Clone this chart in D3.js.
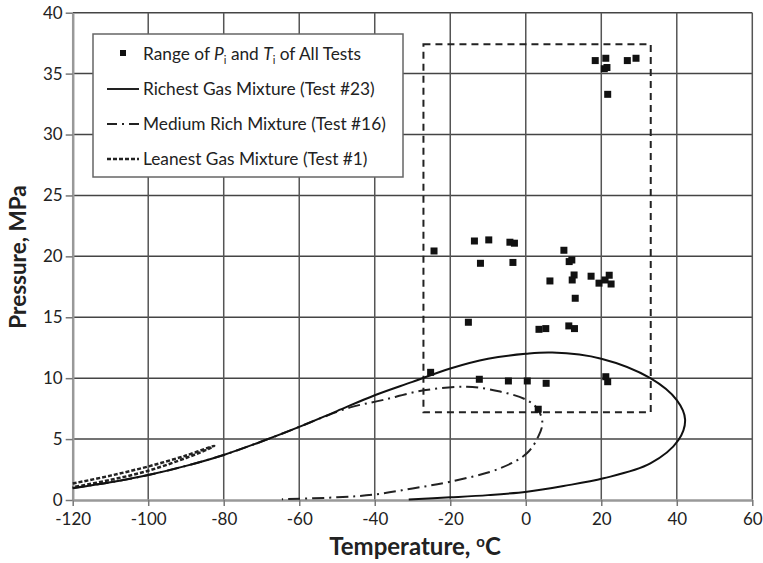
<!DOCTYPE html>
<html>
<head>
<meta charset="utf-8">
<script src="https://cdn.jsdelivr.net/npm/d3@7"></script>
<style>
    body { margin: 0; background: #fff; }
    svg { display: block; font-family: Lato, "Open Sans", sans-serif; }
</style>
</head>
<body>
<svg id="chart" width="763" height="563"></svg>
<script>
// tick values
const xTicks = [-120, -100, -80, -60, -40, -20, 0, 20, 40, 60];
const yTicks = [0, 5, 10, 15, 20, 25, 30, 35, 40];

// initial test conditions [T degC, P MPa]
const testPoints = [
    [18.4, 36.07], [21.2, 36.26], [21.5, 35.5], [20.8, 35.4], [26.9, 36.07], [29.2, 36.26], [21.7, 33.3],
    [-24.3, 20.44], [-13.6, 21.26], [-9.8, 21.35], [-4.2, 21.16], [-3.0, 21.08], [-12.0, 19.43], [-3.4, 19.5],
    [10.1, 20.5], [11.5, 19.57], [12.2, 19.7], [6.4, 17.98], [12.8, 18.47], [12.3, 18.06], [17.3, 18.37],
    [19.4, 17.8], [21.0, 18.06], [22.1, 18.45], [22.6, 17.73], [13.1, 16.56],
    [-15.2, 14.59], [3.5, 14.01], [5.3, 14.07], [11.4, 14.29], [12.9, 14.07],
    [-25.2, 10.48], [-12.3, 9.91], [-4.6, 9.77], [0.4, 9.77], [5.4, 9.58], [21.2, 10.12], [21.7, 9.71],
    [3.3, 7.45]
];

// phase envelopes [T, P]
const richest = [
    [-120, 0.96], [-110, 1.45], [-100, 2.05], [-90, 2.8], [-80, 3.7], [-70, 4.8], [-60, 6.0], [-50, 7.3],
    [-40, 8.6], [-30, 9.7], [-20, 10.8], [-10, 11.6], [0, 12.0], [7, 12.1], [20, 11.6], [33, 10.0],
    [40, 8.2], [42.2, 6.6], [40.4, 4.9], [33, 3.0], [20.6, 1.78], [10, 1.15], [0.3, 0.68], [-10, 0.4],
    [-20, 0.22], [-31, 0.05]
];
const medium = [
    [-120, 0.98], [-110, 1.45], [-100, 2.05], [-90, 2.8], [-80, 3.7], [-70, 4.8], [-60, 6.0], [-54.5, 6.7],
    [-46.5, 7.6], [-38, 8.2], [-27, 9.0], [-15.6, 9.3], [-6.8, 8.9], [0.3, 8.2], [3.3, 7.4], [4.4, 6.3],
    [3.3, 5.2], [0.3, 3.83], [-6.8, 2.6], [-20, 1.5], [-30, 0.95], [-40, 0.45], [-50, 0.22], [-64.6, 0.06]
];
const leanest = [
    [-120, 1.35], [-110, 2.0], [-100, 2.75], [-90, 3.65], [-82.5, 4.45],
    [-84, 4.2], [-90, 3.45], [-100, 2.4], [-110, 1.65], [-120, 1.05]
];

// range of Pi and Ti of all tests
const rangeT = [-27.1, 33.1];
const rangeP = [7.2, 37.4];

const legendLabels = ["Richest Gas Mixture (Test #23)", "Medium Rich Mixture (Test #16)", "Leanest Gas Mixture (Test #1)"];

const svg = d3.select("#chart");

const x = d3.scaleLinear().domain([-120, 60]).range([72.7, 752.3]);
const y = d3.scaleLinear().domain([0, 40]).range([500, 12.7]);

// grid
svg.append("g")
    .selectAll("line")
    .data(yTicks.filter(d => d > 0))
    .join("line")
    .attr("x1", x(-120)).attr("x2", x(60))
    .attr("y1", d => y(d)).attr("y2", d => y(d))
    .attr("stroke", "#444").attr("stroke-width", 1.5);

svg.append("g")
    .selectAll("line")
    .data(xTicks.filter(d => d > -120))
    .join("line")
    .attr("x1", d => x(d)).attr("x2", d => x(d))
    .attr("y1", y(0)).attr("y2", y(40))
    .attr("stroke", "#555").attr("stroke-width", 1.5);

// axes (plain hyphen for negative numbers, as in the original)
const xAxis = svg.append("g")
    .attr("transform", "translate(0," + y(0) + ")")
    .call(d3.axisBottom(x).tickValues(xTicks).tickFormat(d => String(d))
        .tickSize(6).tickSizeOuter(0).tickPadding(7));
const yAxis = svg.append("g")
    .attr("transform", "translate(" + x(-120) + ",0)")
    .call(d3.axisLeft(y).tickValues(yTicks).tickFormat(d => String(d))
        .tickSize(7).tickSizeOuter(0).tickPadding(3));

[xAxis, yAxis].forEach(function (a) {
    a.select(".domain").attr("stroke", "#999").attr("stroke-width", 2.5);
    a.selectAll(".tick line").attr("stroke", "#777").attr("stroke-width", 1.5);
    a.selectAll(".tick text").attr("fill", "#222").style("font-size", "17px").style("font-family", "Lato, sans-serif");
});

// range box
svg.append("rect")
    .attr("x", x(rangeT[0]))
    .attr("y", y(rangeP[1]))
    .attr("width", x(rangeT[1]) - x(rangeT[0]))
    .attr("height", y(rangeP[0]) - y(rangeP[1]))
    .attr("fill", "none")
    .attr("stroke", "#222")
    .attr("stroke-width", 2)
    .attr("stroke-dasharray", "7,5");

const line = d3.line()
    .x(d => x(d[0]))
    .y(d => y(d[1]))
    .curve(d3.curveCatmullRom.alpha(0.5));

svg.append("path")
    .datum(leanest)
    .attr("d", line)
    .attr("fill", "none")
    .attr("stroke", "#222")
    .attr("stroke-width", 2.5)
    .attr("stroke-dasharray", "4,2");

svg.append("path")
    .datum(medium)
    .attr("d", line)
    .attr("fill", "none")
    .attr("stroke", "#222")
    .attr("stroke-width", 2)
    .attr("stroke-dasharray", "12,5,2,5");

svg.append("path")
    .datum(richest)
    .attr("d", line)
    .attr("fill", "none")
    .attr("stroke", "#111")
    .attr("stroke-width", 2);

// test points
svg.append("g")
    .selectAll("rect")
    .data(testPoints)
    .join("rect")
    .attr("x", d => x(d[0]) - 3.5)
    .attr("y", d => y(d[1]) - 3.5)
    .attr("width", 7)
    .attr("height", 7)
    .attr("fill", "#111");

// legend
const legend = svg.append("g");
legend.append("rect")
    .attr("x", 93).attr("y", 34)
    .attr("width", 310).attr("height", 143)
    .attr("fill", "#fff")
    .attr("stroke", "#666")
    .attr("stroke-width", 1.5);

legend.append("rect")
    .attr("x", 120).attr("y", 50).attr("width", 6).attr("height", 6)
    .attr("fill", "#111");

const firstLabel = legend.append("text")
    .attr("x", 143).attr("y", 60)
    .style("font-size", "17.3px")
    .attr("fill", "#222");
firstLabel.append("tspan").text("Range of ");
firstLabel.append("tspan").attr("font-style", "italic").text("P");
firstLabel.append("tspan").attr("dy", 4).style("font-size", "11px").text("i");
firstLabel.append("tspan").attr("dy", -4).text(" and ");
firstLabel.append("tspan").attr("font-style", "italic").text("T");
firstLabel.append("tspan").attr("dy", 4).style("font-size", "11px").text("i");
firstLabel.append("tspan").attr("dy", -4).text(" of All Tests");

const sampleDash = [null, "10,5,2,5", "4,2"];
const sampleWidth = [2, 2, 2.5];
legendLabels.forEach(function (label, i) {
    const ly = 89 + i * 35;
    legend.append("line")
        .attr("x1", 107).attr("x2", 139)
        .attr("y1", ly).attr("y2", ly)
        .attr("stroke", "#222")
        .attr("stroke-width", sampleWidth[i])
        .attr("stroke-dasharray", sampleDash[i]);
    legend.append("text")
        .attr("x", 143).attr("y", ly + 6)
        .style("font-size", "17.3px")
        .attr("fill", "#222")
        .text(label);
});

// axis titles
svg.append("text")
    .attr("transform", "translate(26,257) rotate(-90)")
    .attr("text-anchor", "middle")
    .style("font-size", "22.5px")
    .style("font-weight", "bold")
    .attr("fill", "#222")
    .text("Pressure, MPa");

const xt = svg.append("text")
    .attr("x", 415).attr("y", 555)
    .attr("text-anchor", "middle")
    .style("font-size", "24px")
    .style("font-weight", "bold")
    .attr("fill", "#222");
xt.append("tspan").text("Temperature, ");
xt.append("tspan").attr("dy", -8).style("font-size", "15px").text("o");
xt.append("tspan").attr("dy", 8).text("C");
</script>
</body>
</html>
